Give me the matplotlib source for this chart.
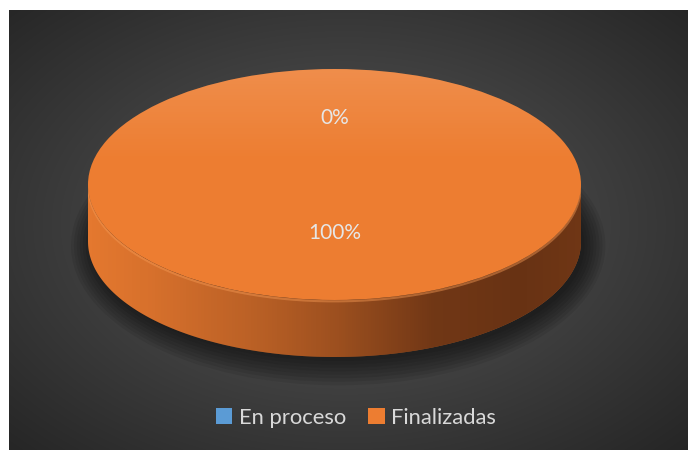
import numpy as np
import matplotlib
matplotlib.use("Agg")
import matplotlib.pyplot as plt
from matplotlib.patches import Polygon, Circle, Ellipse

# ---- data ----
categories = ["En proceso", "Finalizadas"]
values = [0, 100]
colors = ["#5B9BD5", "#ED7D31"]

W, H = 690, 450
FONT = ["Lato", "DejaVu Sans"]
fig = plt.figure(figsize=(W / 100, H / 100), dpi=100, facecolor="white")

# ---- background panel with radial gradient ----
axbg = fig.add_axes([0, 0, 1, 1])
px0, px1, py0, py1 = 9, 688, 10, 450
xs = np.linspace(px0, px1, 400)
ys = np.linspace(py0, py1, 300)
X, Y = np.meshgrid(xs, ys)
r = np.sqrt(((X - 345) / 340) ** 2 + ((Y - 225) / 225) ** 2)
v = np.clip(90 - 37 * r, 30, 100) / 255
axbg.imshow(np.dstack([v, v, v]), extent=(px0, px1, py1, py0), aspect="auto",
            interpolation="bilinear")
axbg.set_xlim(0, W)
axbg.set_ylim(H, 0)
axbg.axis("off")

# ---- pie axes (top face ellipse + depth) ----
cx0, cx1, cy_top, cy_front = 88, 581, 69, 300
depth_px = 57
b = (cy_front - cy_top) / 2
d = depth_px / b
ax = fig.add_axes([cx0 / W, (H - (cy_front + depth_px)) / H,
                   (cx1 - cx0) / W, (cy_front + depth_px - cy_top) / H])

wedges, texts, autotexts = ax.pie(
    values, colors=colors, startangle=90, counterclock=False,
    autopct="%1.0f%%", pctdistance=0.5, wedgeprops=dict(linewidth=0),
    textprops=dict(color="#e6e6e6", fontsize=15, family=FONT))
ax.set_aspect("auto")
ax.set_xlim(-1, 1)
ax.set_ylim(-1 - d, 1)
ax.axis("off")

for w in wedges:
    w.set_zorder(3)
for t in autotexts:
    x, y = t.get_position()
    t.set_position((x, y + 0.08))
    t.set_zorder(10)

# shadow under the pie
for i in range(8):
    e = Ellipse((0.015, -d - 0.035), 2 * (1.0 + 0.012 * i), 2 * (1.0 + 0.03 * i),
                facecolor="black", alpha=0.08, lw=0, zorder=0.5, clip_on=False)
    ax.add_patch(e)

# side wall of each wedge (front half only)
def side_shade(xv):
    pts = np.array([-1.0, -0.75, -0.3, 0.0, 0.4, 0.75, 1.0])
    alph = np.array([0.04, 0.10, 0.24, 0.36, 0.56, 0.60, 0.57])
    return np.interp(xv, pts, alph)

gx = np.linspace(-1, 1, 300)
shade = np.zeros((2, 300, 4))
shade[..., 0] = 0.06
shade[..., 3] = side_shade(gx)[None, :]

for w in wedges:
    t1, t2 = w.theta1, w.theta2
    for k in range(-2, 3):
        a0 = max(t1, 180 + 360 * k)
        a1 = min(t2, 360 + 360 * k)
        if a1 <= a0:
            continue
        th = np.radians(np.linspace(a0, a1, 200))
        top = np.column_stack([np.cos(th), np.sin(th)])
        bot = np.column_stack([np.cos(th), np.sin(th) - d])[::-1]
        poly = Polygon(np.vstack([top, bot]), closed=True,
                       facecolor=w.get_facecolor(), lw=0, zorder=1)
        ax.add_patch(poly)
        im = ax.imshow(shade, extent=(-1, 1, -1 - d, 0), aspect="auto",
                       interpolation="bilinear", zorder=1.5)
        im.set_clip_path(poly)
        # rim highlight along the front edge of the top face
        ax.plot(top[:, 0], top[:, 1] - 0.012, color="#f59a55", lw=1.5,
                alpha=0.45, zorder=2)

# subtle light gradient on top face
gy = np.linspace(1, -1, 200)
topshade = np.ones((200, 2, 4))
topshade[..., 3] = np.clip((gy[:, None] - 0.2) / 0.8, 0, 1) * 0.13
clip = Circle((0, 0), 1, transform=ax.transData)
im2 = ax.imshow(topshade, extent=(-1, 1, -1, 1), aspect="auto",
                interpolation="bilinear", zorder=4)
im2.set_clip_path(clip)
ax.set_xlim(-1, 1)
ax.set_ylim(-1 - d, 1)

# ---- legend ----
fig.legend(wedges, categories, loc="center",
           bbox_to_anchor=(356 / W, 1 - 418 / H), ncol=2, frameon=False,
           handlelength=0.75, handleheight=0.75, handletextpad=0.3,
           columnspacing=1.0, labelcolor="#d9d9d9",
           prop=dict(family=FONT, size=15.8))

fig.savefig("out.png", dpi=100, facecolor="white")
